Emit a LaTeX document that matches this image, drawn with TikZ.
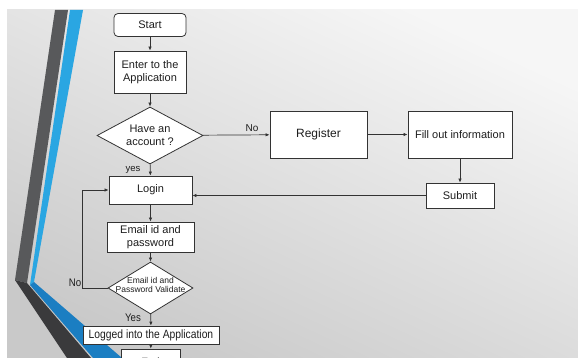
\documentclass[tikz,border=0pt]{standalone}
\usepackage{fontspec}
\setmainfont{Liberation Sans}
\usepackage{graphicx}
\usetikzlibrary{shapes.geometric,arrows.meta}

\definecolor{linea}{HTML}{333333}
\definecolor{texto}{HTML}{1E1E1E}
\definecolor{grisA}{HTML}{58595B}
\definecolor{grisB}{HTML}{3A3A3C}
\definecolor{azulA}{HTML}{2AA6E2}
\definecolor{azulB}{HTML}{1B7EC2}

\tikzset{
	caja/.style={draw=linea, fill=white, line width=0.8pt, align=center, inner sep=0pt, text=texto, font=\fontsize{11}{13}\selectfont},
	rombo/.style={caja, diamond},
	flecha/.style={draw=linea, line width=0.7pt, -{Latex[length=4pt,width=3.4pt]}},
	etiq/.style={text=texto, inner sep=0pt, font=\fontsize{10}{12}\selectfont}
}
\newcommand{\estrecho}[1]{\scalebox{0.88}[1]{#1}}

\begin{document}
\begin{tikzpicture}[x=1pt, y=-1pt]
	\useasboundingbox (0,0) rectangle (578,358);
	\clip (0,0) rectangle (578,358);
	% fondo
	\fill[white] (0,0) rectangle (578,358);
	\shade[top color=white!93!gray, bottom color=gray!42!white, shading angle=-25] (7,10) rectangle (578,358);
	
	% franjas de la izquierda
	\fill[grisA] (55,10) -- (68,10) -- (27,283) -- (15,280) -- cycle;
	\fill[grisB] (15,280) -- (27,283) -- (91,358) -- (67,358) -- cycle;
	\fill[azulA] (70,10) -- (83,10) -- (34,282) -- (30,285) -- cycle;
	\fill[azulB] (30,285) -- (34,282) -- (122,358) -- (93,358) -- cycle;
	
	% cajas
	\node[caja, rounded corners=4pt, minimum width=72pt, minimum height=23pt] (inicio) at (150,25) {Start};
	\node[caja, minimum width=72pt, minimum height=42pt] (entrar) at (150,72) {Enter to the\\Application};
	\node[rombo, aspect=1.9, minimum width=106pt, minimum height=57pt] (cuenta) at (150,135.5) {Have an\\account ?};
	\node[caja, minimum width=97pt, minimum height=47pt, font=\fontsize{12}{14}\selectfont] (registro) at (318.5,134.5) {Register};
	\node[caja, minimum width=104pt, minimum height=47pt] (datos) at (460,134.5) {Fill out information};
	\node[caja, minimum width=68pt, minimum height=25pt] (enviar) at (460,195.5) {Submit};
	\node[caja, minimum width=83pt, minimum height=28pt] (login) at (150.5,190) {Login};
	\node[caja, minimum width=87pt, minimum height=30pt] (correo) at (150.5,237) {Email id and\\password};
	\node[rombo, minimum width=85pt, minimum height=52pt] (valida) at (150.5,288)
		{\smash{\makebox[0pt]{\fontsize{8.5}{10}\selectfont\begin{tabular}{@{}c@{}}Email id and\\[-1pt]Password Validate\end{tabular}}}};
	\node[caja, minimum width=136pt, minimum height=18pt, font=\fontsize{12}{14}\selectfont] (dentro) at (151,335) {\scalebox{0.86}[1]{Logged into the Application}};
	\node[caja, minimum width=59pt, minimum height=26pt, font=\fontsize{12}{14}\selectfont] (fin) at (150.5,362) {\scalebox{0.86}[1]{End}};
	
	% conectores
	\draw[flecha] (inicio) -- (entrar);
	\draw[flecha] (entrar) -- (cuenta);
	\draw[flecha] (cuenta) -- (registro);
	\draw[flecha] (registro) -- (datos);
	\draw[flecha] (datos) -- (enviar);
	\draw[flecha] (enviar.west) -- (login.east |- enviar.west);
	\draw[flecha] (cuenta) -- (login);
	\draw[flecha] (login) -- (correo);
	\draw[flecha] (correo) -- (valida);
	\draw[flecha] (valida.west) -- ++(-25,0) |- (login.west);
	\draw[flecha] (valida) -- (dentro);
	\draw[flecha] (dentro) -- (fin);
	
	% etiquetas
	\node[etiq] (no1) at (252,128) {No};
	\node[etiq, font=\fontsize{9.5}{11}\selectfont] (si1) at (133,170) {yes};
	\node[etiq, font=\fontsize{11}{13}\selectfont] (no2) at (75,283) {\estrecho{No}};
	\node[etiq, font=\fontsize{11}{13}\selectfont] (si2) at (133,318) {\estrecho{Yes}};
\end{tikzpicture}
\end{document}
